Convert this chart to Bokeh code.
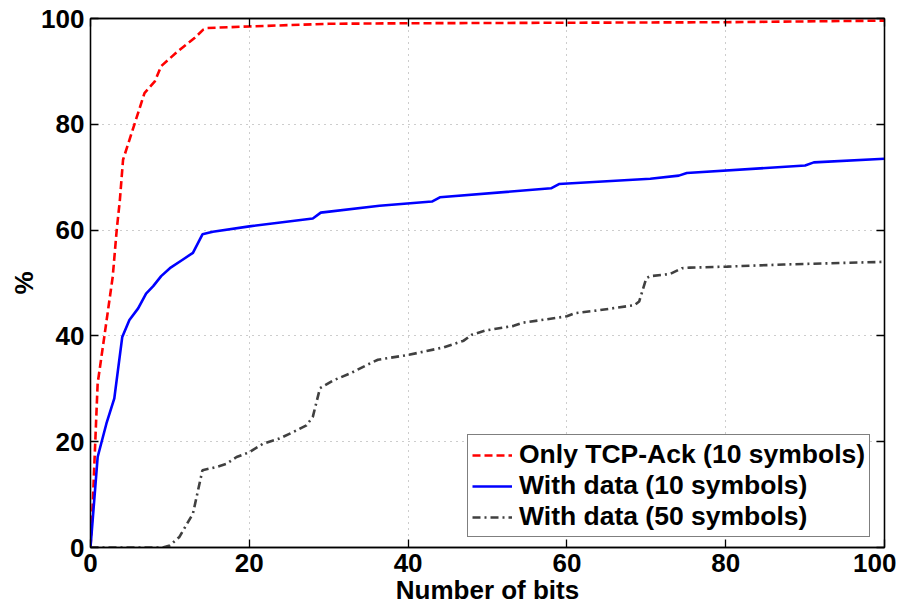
from bokeh.plotting import figure
from bokeh.models import Range1d, LinearAxis, FixedTicker, CustomJSTickFormatter
from bokeh.embed import file_html
from bokeh.resources import INLINE

# ---- data ----
ticks = [0, 20, 40, 60, 80, 100]

ack_x = [0, 0.3, 0.9, 1.8, 2.8, 3.3, 3.7, 4.1, 6.8, 8.1, 8.9, 11.0, 13.1, 14.2, 14.7, 20, 30, 40, 60, 80, 100]
ack_y = [0, 8.9, 31.0, 40.5, 51.2, 60.0, 65.7, 73.3, 85.9, 88.1, 91.0, 93.8, 96.3, 97.9, 98.2, 98.5, 99.0, 99.1, 99.2, 99.3, 99.6]

d10_x = [0, 0.9, 2.0, 3.0, 4.0, 4.9, 6.0, 7.0, 7.9, 8.9, 10.0, 11.6, 12.9, 14.1, 15.4, 20.0, 28.0, 29.0,
         36.4, 43.0, 44.0, 58.0, 59.0, 70.5, 74.1, 75.1, 90.0, 91.1, 100]
d10_y = [0, 17.1, 23.4, 28.2, 39.8, 43.0, 45.2, 48.0, 49.4, 51.3, 52.8, 54.4, 55.7, 59.2, 59.7, 60.7, 62.2, 63.3,
         64.6, 65.4, 66.2, 67.9, 68.7, 69.7, 70.3, 70.8, 72.2, 72.8, 73.5]

d50_x = [0, 9.1, 10.0, 11.2, 12.9, 14.1, 15.8, 17.1, 18.4, 20.0, 21.7, 23.8, 25.5, 27.2, 28.0, 28.9, 30.6,
         32.7, 34.8, 36.2, 40.0, 44.4, 47.0, 48.0, 49.7, 53.3, 54.5, 60.0, 61.0, 63.8, 68.5, 69.1, 70.0,
         70.5, 73.0, 74.5, 75.5, 80.2, 87.3, 100]
d50_y = [0, 0, 0.4, 2.0, 6.4, 14.6, 15.2, 15.8, 17.1, 18.0, 19.6, 20.6, 21.8, 23.1, 24.7, 30.1, 31.6,
         32.9, 34.5, 35.5, 36.4, 37.8, 39.1, 40.2, 41.0, 41.9, 42.5, 43.7, 44.3, 44.8, 45.8, 46.5, 50.9,
         51.3, 51.7, 52.8, 52.9, 53.1, 53.5, 54.0]

labels = ["Only TCP-Ack (10 symbols)", "With data (10 symbols)", "With data (50 symbols)"]

FONT = "Liberation Sans"
FS = "26px"

p = figure(width=896, height=607, x_range=Range1d(0, 100), y_range=Range1d(0, 100),
           output_backend="svg", toolbar_location=None,
           min_border_left=90, min_border_right=12, min_border_top=18, min_border_bottom=50)

p.background_fill_color = "white"
p.border_fill_color = "white"
p.outline_line_color = "black"
p.outline_line_width = 1.3

for ax, lbl in ((p.xaxis[0], "Number of bits"), (p.yaxis[0], "%")):
    ax.ticker = FixedTicker(ticks=ticks)
    ax.axis_label = lbl
    ax.axis_label_text_font = FONT
    ax.axis_label_text_font_style = "bold"
    ax.axis_label_text_font_size = FS
    ax.major_label_text_font = FONT
    ax.major_label_text_font_style = "bold"
    ax.major_label_text_font_size = FS
    ax.major_label_text_color = "black"
    ax.axis_label_text_color = "black"
    ax.major_tick_in = 8
    ax.major_tick_out = 0
    ax.minor_tick_in = 0
    ax.minor_tick_out = 0
    ax.axis_line_width = 1.3
    ax.major_tick_line_width = 1.3

p.xaxis[0].major_label_standoff = 6
p.xaxis[0].axis_label_standoff = 0
p.yaxis[0].major_label_standoff = 6
p.yaxis[0].axis_label_standoff = -1

for g in (p.xgrid[0], p.ygrid[0]):
    g.ticker = FixedTicker(ticks=ticks)
    g.grid_line_color = "#9a9a9a"
    g.grid_line_dash = "1 5"
    g.grid_line_width = 1

p.line(ack_x, ack_y, color="#ff0000", line_width=2.6, line_dash="8 4", legend_label=labels[0])
p.line(d10_x, d10_y, color="#0000ff", line_width=2.6, legend_label=labels[1])
p.line(d50_x, d50_y, color="#404040", line_width=2.6, line_dash="8 4 2 4", legend_label=labels[2])

lg = p.legend[0]
lg.location = (377, 10)
lg.margin = 0
lg.padding = 4
lg.spacing = 0
lg.glyph_width = 40
lg.glyph_height = 30
lg.label_standoff = 7
lg.label_text_font = FONT
lg.label_text_font_style = "bold"
lg.label_text_font_size = "26.5px"
lg.label_text_color = "black"
lg.border_line_color = "black"
lg.border_line_width = 1
lg.background_fill_alpha = 1

for loc in ("above", "right"):
    ax = LinearAxis(ticker=FixedTicker(ticks=ticks),
                    formatter=CustomJSTickFormatter(code="return ''"),
                    major_tick_in=8, major_tick_out=0, minor_tick_in=0, minor_tick_out=0,
                    major_label_text_font_size="0px", major_label_standoff=0,
                    axis_line_width=1.3, major_tick_line_width=1.3)
    p.add_layout(ax, loc)

open("out.html", "w").write(file_html(p, INLINE))
